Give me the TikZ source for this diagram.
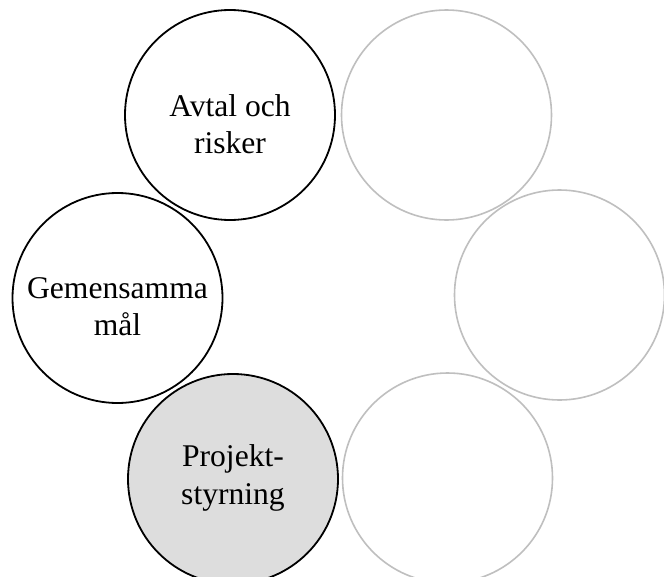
\documentclass[tikz,border=0pt]{standalone}
\usepackage{fontspec}
\setmainfont{Liberation Serif}
\definecolor{ringgray}{HTML}{BFBFBF}
\definecolor{softfill}{HTML}{DDDDDD}
\begin{document}
\begin{tikzpicture}[x=1pt,y=-1pt,
  bubble/.style={circle, minimum size=210pt, inner sep=0pt},
  active/.style={bubble, draw=black, line width=1.8pt, fill=white},
  idle/.style={bubble, draw=ringgray, line width=1.6pt, fill=white},
  current/.style={bubble, draw=black, line width=1.8pt, fill=softfill},
  caption/.style={align=center, inner sep=0pt,
    font=\fontsize{31.6}{37.2}\selectfont}]
  \useasboundingbox (0,0) rectangle (664,576);
  % ring of six circles
  \node[active]  (avtal)    at (230,115) {};
  \node[idle]    (topright) at (446.5,115) {};
  \node[active]  (mal)      at (117.5,298) {};
  \node[idle]    (right)    at (559.5,295) {};
  \node[current] (projekt)  at (233,479) {};
  \node[idle]    (botright) at (447.5,478) {};
  % captions, set slightly below the circle centres
  \node[caption] (avtaltext)   at ([yshift=-9pt]avtal.center)   {Avtal och\\risker};
  \node[caption] (maltext)     at ([yshift=-9pt]mal.center)     {Gemensamma\\mål};
  \node[caption] (projekttext) at ([yshift=1pt]projekt.center)  {Projekt-\\styrning};
\end{tikzpicture}
\end{document}
